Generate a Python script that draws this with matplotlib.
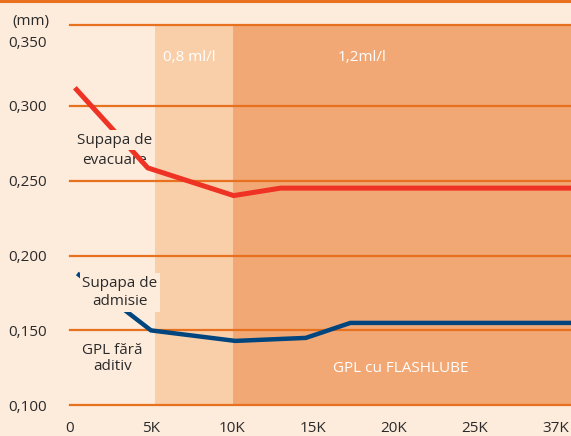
import numpy as np
import matplotlib
matplotlib.use("Agg")
import matplotlib.pyplot as plt
import matplotlib.transforms as mtransforms

# ---- data ----
tick_km = [0, 5000, 10000, 15000, 20000, 25000, 37000]
tick_labels = ["0", "5K", "10K", "15K", "20K", "25K", "37K"]
y_ticks = [0.100, 0.150, 0.200, 0.250, 0.300, 0.350]
y_labels = ["0,100", "0,150", "0,200", "0,250", "0,300", "0,350"]

exhaust_km = [300, 4800, 10100, 13000, 39200]
exhaust_mm = [0.312, 0.2585, 0.240, 0.245, 0.245]
intake_km = [450, 5000, 10200, 14550, 17300, 39200]
intake_mm = [0.188, 0.150, 0.143, 0.145, 0.155, 0.155]

zones_km = [0, 5250, 10075, 39200]
zone_labels = ["", "0,8 ml/l", "1,2ml/l"]

# ---- style ----
BG = "#fdebdc"
PEACH = "#f9cfaa"
ORANGE = "#f2a874"
GRID = "#e8711f"
RED = "#ee3224"
NAVY = "#00457e"
TXT = "#2a2a2a"
plt.rcParams['font.family'] = ['Open Sans', 'DejaVu Sans']

pos = np.arange(len(tick_km))
def fwd(x):
    x = np.asarray(x, dtype=float)
    out = np.interp(x, tick_km, pos)
    out = np.where(x < tick_km[-1], out, pos[-1] + (x - tick_km[-1]) / 12000.0)
    return out
def inv(p):
    p = np.asarray(p, dtype=float)
    out = np.interp(p, pos, tick_km)
    out = np.where(p < pos[-1], out, tick_km[-1] + (p - pos[-1]) * 12000.0)
    return out

fig = plt.figure(figsize=(5.71, 4.36), dpi=100, facecolor=BG)
ax = fig.add_axes([70/571, (436-405.3)/436, 501/571, (405.3-25.3)/436])
ax.set_facecolor(BG)
ax.set_xscale('function', functions=(fwd, inv))
ax.set_xlim(-60, 39200)
ax.set_ylim(0.100, 0.3537)

# zones
ax.axvspan(zones_km[1], zones_km[2], color=PEACH, lw=0, zorder=0)
ax.axvspan(zones_km[2], zones_km[3], color=ORANGE, lw=0, zorder=0)

# gridlines
for v in y_ticks[:-1]:
    ax.axhline(v, color=GRID, lw=1.6, zorder=1, clip_on=False)
ax.axhline(0.3537, color=GRID, lw=1.6, zorder=1, clip_on=False)

ax.plot(exhaust_km, exhaust_mm, color=RED, lw=3.6, solid_capstyle='butt',
        solid_joinstyle='miter', zorder=3)
ax.plot(intake_km, intake_mm, color=NAVY, lw=3.2, solid_capstyle='butt',
        solid_joinstyle='miter', zorder=3)

for s in ax.spines.values():
    s.set_visible(False)

ax.set_xticks(tick_km)
ax.set_xticklabels(tick_labels)
ax.set_yticks(y_ticks)
ax.set_yticklabels(y_labels)
ax.tick_params(axis='both', length=0, labelsize=11, colors=TXT)
ax.tick_params(axis='x', pad=11)
ax.tick_params(axis='y', pad=17)
ax.xaxis.set_minor_locator(matplotlib.ticker.NullLocator())
ax.yaxis.set_minor_locator(matplotlib.ticker.NullLocator())
top_lab = ax.get_yticklabels()[-1]
top_lab.set_transform(top_lab.get_transform() +
                      mtransforms.ScaledTranslation(0, -11/100, fig.dpi_scale_trans))

fig.text(12/571, 1 - 22/436, "(mm)", fontsize=11, color=TXT, va='center', ha='left')

# zone labels
ax.text(7355, 0.3325, zone_labels[1], color="white", fontsize=11, ha='center', va='center', zorder=4)
ax.text(18020, 0.3325, zone_labels[2], color="white", fontsize=11, ha='center', va='center', zorder=4)
ax.text(20440, 0.1249, "GPL cu FLASHLUBE", color="white", fontsize=11, ha='center', va='center', zorder=4)

box = dict(facecolor=BG, edgecolor='none', pad=2)
ax.text(2750, 0.2771, "Supapa de", color=TXT, fontsize=11, ha='center', va='center',
        bbox=box, zorder=4)
ax.text(2720, 0.2637, "evacuare", color=TXT, fontsize=11, ha='center', va='center',
        zorder=2.5)
ax.text(3090, 0.1753, "Supapa de\nadmisie", color=TXT, fontsize=11, ha='center', va='center',
        linespacing=1.25, bbox=box, zorder=4)
ax.text(2600, 0.1312, "GPL fără\naditiv", color=TXT, fontsize=11, ha='center', va='center',
        linespacing=1.1, zorder=4)

fig.add_artist(plt.Line2D([0, 1], [1 - 1/436, 1 - 1/436], transform=fig.transFigure,
                          color=GRID, lw=2.2))

fig.savefig("out.png", dpi=100, facecolor=BG)
